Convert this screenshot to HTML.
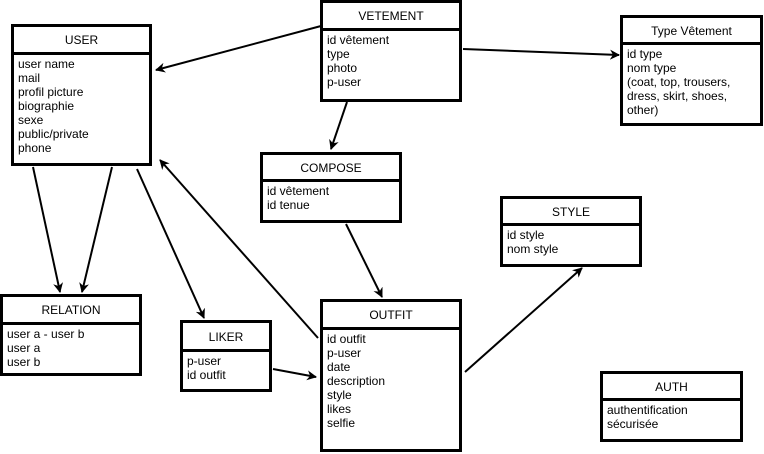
<!DOCTYPE html>
<html><head><meta charset="utf-8"><style>
body{margin:0;width:764px;height:454px;background:#fff;position:relative;overflow:hidden;font-family:"Liberation Sans",Arial,sans-serif;font-size:12px;color:#000}
.b{position:absolute;border:3px solid #000;box-sizing:border-box;background:#fff}
.h{border-bottom:3px solid #000;text-align:center;box-sizing:border-box;display:flex;align-items:center;justify-content:center;padding-top:1px}
.c{padding:2px 0 0 4px;line-height:14px}
svg{position:absolute;left:0;top:0}
</style></head><body>
<svg width="764" height="454">
<defs><marker id="a" markerWidth="10" markerHeight="10" refX="9" refY="5" orient="auto" markerUnits="userSpaceOnUse"><path d="M0,0 L10,5 L0,10 L3,5 z" fill="#000"/></marker></defs>
<g stroke="#000" stroke-width="2" fill="none" marker-end="url(#a)">
<line x1="321" y1="26" x2="156" y2="70"/>
<line x1="463" y1="49" x2="619" y2="55"/>
<line x1="347" y1="102" x2="331" y2="149"/>
<line x1="33" y1="167" x2="60" y2="292"/>
<line x1="112" y1="167" x2="82" y2="292"/>
<line x1="137" y1="169" x2="204" y2="318"/>
<line x1="318" y1="338" x2="160" y2="160"/>
<line x1="346" y1="224" x2="382" y2="297"/>
<line x1="273" y1="369" x2="316" y2="377"/>
<line x1="465" y1="372" x2="582" y2="268"/>
</g></svg>
<div class="b" style="left:11px;top:24px;width:141px;height:142px"><div class="h" style="height:28px">USER</div><div class="c">user name<br>mail<br>profil picture<br>biographie<br>sexe<br>public/private<br>phone</div></div>
<div class="b" style="left:320px;top:0;width:142px;height:102px"><div class="h" style="height:28px">VETEMENT</div><div class="c">id vêtement<br>type<br>photo<br>p-user</div></div>
<div class="b" style="left:620px;top:15px;width:143px;height:111px"><div class="h" style="height:27px">Type Vêtement</div><div class="c">id type<br>nom type<br>(coat, top, trousers,<br>dress, skirt, shoes,<br>other)</div></div>
<div class="b" style="left:260px;top:152px;width:142px;height:71px"><div class="h" style="height:27px">COMPOSE</div><div class="c">id vêtement<br>id tenue</div></div>
<div class="b" style="left:500px;top:196px;width:142px;height:71px"><div class="h" style="height:27px">STYLE</div><div class="c">id style<br>nom style</div></div>
<div class="b" style="left:0;top:294px;width:142px;height:82px"><div class="h" style="height:28px">RELATION</div><div class="c">user a - user b<br>user a<br>user b</div></div>
<div class="b" style="left:180px;top:320px;width:92px;height:72px"><div class="h" style="height:29px">LIKER</div><div class="c">p-user<br>id outfit</div></div>
<div class="b" style="left:320px;top:299px;width:142px;height:153px"><div class="h" style="height:28px">OUTFIT</div><div class="c">id outfit<br>p-user<br>date<br>description<br>style<br>likes<br>selfie</div></div>
<div class="b" style="left:600px;top:371px;width:143px;height:71px"><div class="h" style="height:27px">AUTH</div><div class="c">authentification<br>sécurisée</div></div>
</body></html>
